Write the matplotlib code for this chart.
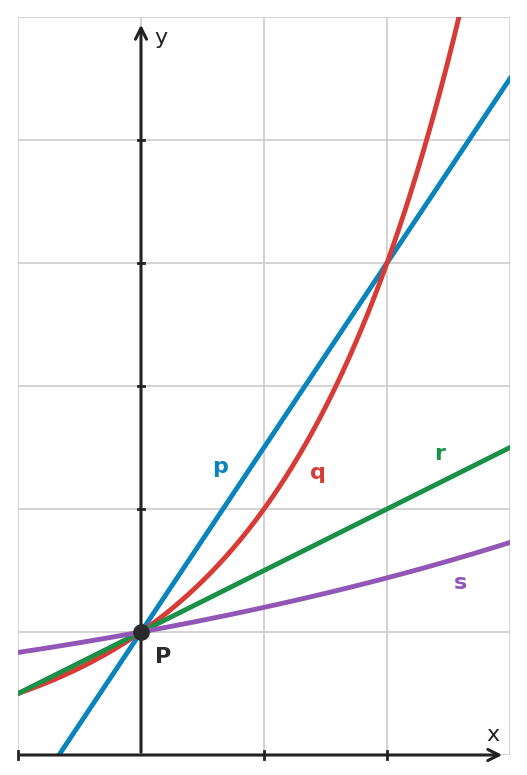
import numpy as np
import matplotlib.pyplot as plt

x_range = (-1, 3)
y_range = (0, 6)
slope_p = 1.5
base_q = 2.0
slope_r = 0.5
base_s = 1.2
point_P = (0, 1)

fig = plt.figure(figsize=(5.27, 7.75), dpi=100)
ax = fig.add_axes([18 / 527, 20 / 775, 492 / 527, 738 / 775])
ax.set_xlim(*x_range)
ax.set_ylim(*y_range)
for s in ax.spines.values():
    s.set_visible(False)
ax.set_xticks([])
ax.set_yticks([])

for gx in range(-1, 4):
    ax.axvline(gx, color='#cccccc', lw=1.2, zorder=0)
for gy in range(0, 7):
    ax.axhline(gy, color='#cccccc', lw=1.2, zorder=0)

xs = np.linspace(-1, 3, 400)
ax.plot(xs, 1 + slope_p * xs, color='#0a84bd', lw=3.5, zorder=3)
ax.plot(xs, base_q ** xs, color='#d63b36', lw=3.5, zorder=3)
ax.plot(xs, 1 + slope_r * xs, color='#1a9146', lw=3.5, zorder=3)
ax.plot(xs, base_s ** xs, color='#9156b6', lw=3.5, zorder=3)

# axes with arrows
ax.annotate('', xy=(2.96, 0), xytext=(-1, 0), annotation_clip=False,
            arrowprops=dict(arrowstyle='->', color='#222222', lw=2.2, mutation_scale=20), zorder=4)
ax.annotate('', xy=(0, 5.96), xytext=(0, 0), annotation_clip=False,
            arrowprops=dict(arrowstyle='->', color='#222222', lw=2.2, mutation_scale=20), zorder=4)
for ty in range(1, 6):
    ax.plot([-0.025, 0.025], [ty, ty], color='#222222', lw=2, zorder=4)
for tx in [-1, 1, 2]:
    ax.plot([tx, tx], [-0.03, 0.03], color='#222222', lw=2, zorder=4, clip_on=False)

ax.plot(*point_P, 'o', color='#2a2a2e', ms=11, zorder=5)

ax.text(0.11, 5.83, 'y', fontsize=16, color='#222222', ha='left', va='center')
ax.text(2.86, 0.16, 'x', fontsize=16, color='#222222', ha='center', va='center')
ax.text(0.18, 0.8, 'P', fontsize=16, color='#2a2a2e', weight='bold', ha='center', va='center')
ax.text(0.64, 2.34, 'p', fontsize=16, color='#0a84bd', weight='bold', ha='center', va='center')
ax.text(1.44, 2.29, 'q', fontsize=16, color='#d63b36', weight='bold', ha='center', va='center')
ax.text(2.43, 2.45, 'r', fontsize=16, color='#1a9146', weight='bold', ha='center', va='center')
ax.text(2.6, 1.4, 's', fontsize=16, color='#9156b6', weight='bold', ha='center', va='center')

fig.savefig('out.png', dpi=100)
